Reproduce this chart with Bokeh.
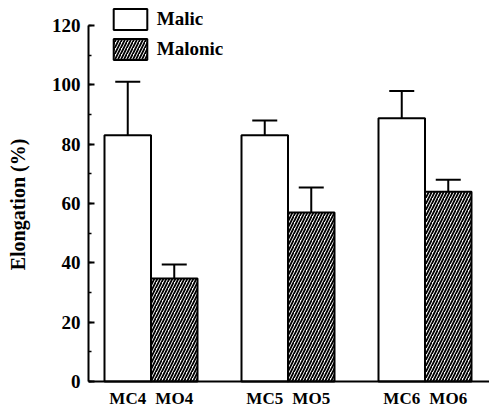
from bokeh.plotting import figure
from bokeh.models import (Range1d, SingleIntervalTicker, Legend, LegendItem,
                          Whisker, TeeHead, ColumnDataSource, Span)
from bokeh.core.properties import value
from bokeh.embed import file_html
from bokeh.resources import INLINE

# ---- data ----
malic_labels = ["MC4", "MC5", "MC6"]
malonic_labels = ["MO4", "MO5", "MO6"]
malic = [83, 83, 88.7]
malic_err = [18, 5, 9.2]
malonic = [34.7, 57, 64]
malonic_err = [4.7, 8.4, 4]
series_names = ["Malic", "Malonic"]
y_label = "Elongation (%)"

# ---- layout (pixel-based x units) ----
W, H = 489, 408
LEFT = 88
ZERO_PX = 381          # pixel row of y = 0
TOP_PX = 25            # pixel row of y = 120
ppu = (ZERO_PX - TOP_PX) / 120.0
bar_w = 46.5
group_step = 137
first_left = 16

n = len(malic)
mc_x = [first_left + g * group_step + bar_w / 2 for g in range(n)]
mo_x = [x + bar_w for x in mc_x]

FONT = value("Liberation Serif")

p = figure(width=W, height=H, output_backend="svg", toolbar_location=None,
           x_range=Range1d(0, W - LEFT),
           y_range=Range1d(-(H - ZERO_PX) / ppu, ZERO_PX / ppu),
           x_axis_location=None,
           min_border_left=LEFT, min_border_right=0, min_border_top=0,
           min_border_bottom=0)
p.outline_line_color = None
p.grid.visible = False
p.background_fill_color = "white"

# y axis
ya = p.yaxis[0]
ya.bounds = (0, 120)
ya.ticker = SingleIntervalTicker(interval=20, num_minor_ticks=2)
ya.axis_line_width = 2
ya.major_tick_in = 6
ya.major_tick_out = 0
ya.minor_tick_in = 3
ya.minor_tick_out = 0
ya.major_tick_line_width = 2
ya.minor_tick_line_width = 1.5
ya.major_label_standoff = 8
ya.major_label_text_font = "Liberation Serif"
ya.major_label_text_font_style = "bold"
ya.major_label_text_font_size = "19px"
ya.major_label_text_color = "black"
ya.axis_label = y_label
ya.axis_label_text_font = "Liberation Serif"
ya.axis_label_text_font_style = "bold"
ya.axis_label_text_font_size = "20px"
ya.axis_label_text_color = "black"
ya.axis_label_standoff = 20

# baseline
p.add_layout(Span(location=0, dimension="width", line_color="black", line_width=2))

# bars
r1 = p.vbar(x=mc_x, top=malic, bottom=0, width=bar_w, fill_color="white",
            line_color="black", line_width=2)
r2 = p.vbar(x=mo_x, top=malonic, bottom=0, width=bar_w, fill_color="white",
            line_color="black", line_width=2, hatch_pattern="/",
            hatch_color="black", hatch_weight=1.8, hatch_scale=6)

# error bars (upper only)
for xs, vals, errs in [(mc_x, malic, malic_err), (mo_x, malonic, malonic_err)]:
    src = ColumnDataSource(dict(x=xs, lower=vals,
                                upper=[v + e for v, e in zip(vals, errs)]))
    w = Whisker(base="x", lower="lower", upper="upper", source=src,
                lower_head=None,
                upper_head=TeeHead(size=25, line_width=2, line_color="black"),
                line_width=2, line_color="black")
    p.add_layout(w)

# category labels
lab_y = -(398 - ZERO_PX) / ppu
p.text(x=mc_x + mo_x, y=[lab_y] * (2 * n), text=malic_labels + malonic_labels,
       text_align="center", text_baseline="middle", text_font=FONT,
       text_font_style="bold", text_font_size="17px", text_color="black")

# legend
legend = Legend(items=[LegendItem(label=series_names[0], renderers=[r1]),
                       LegendItem(label=series_names[1], renderers=[r2])],
                location=(113 - 4.25 - LEFT, H - 61.65),
                glyph_width=42, glyph_height=26, spacing=4, padding=0, margin=0,
                label_standoff=6, border_line_alpha=0, background_fill_alpha=0,
                label_text_font="Liberation Serif", label_text_font_style="bold",
                label_text_font_size="19px", label_text_color="black")
p.add_layout(legend)

open("out.html", "w").write(file_html(p, INLINE))
